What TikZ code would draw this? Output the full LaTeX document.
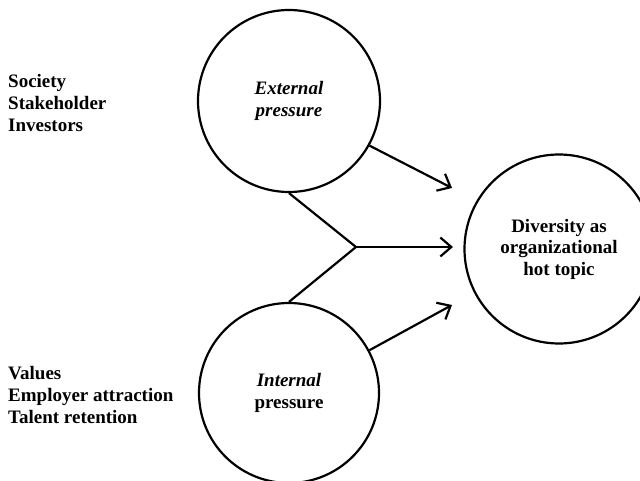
\documentclass[tikz,border=0pt]{standalone}
\usepackage{fontspec}
\setmainfont{Liberation Serif}
\usetikzlibrary{arrows.meta}
\begin{document}
\begin{tikzpicture}[x=1pt,y=-1pt,
  bubble/.style={draw=black,line width=2.2pt,circle,inner sep=0pt,minimum size=#1,font=\fontsize{19}{21.5}\selectfont\bfseries,align=center},
  conn/.style={draw=black,line width=2.2pt},
  arr/.style={conn,-{Straight Barb[length=11pt,width=19pt,line width=2.2pt]}},
  side/.style={font=\fontsize{19}{22}\selectfont\bfseries,align=left,anchor=west,inner sep=0pt}]
\useasboundingbox (0,0) rectangle (640,481);
\node[bubble=182pt] (ext) at (289,101) {\itshape External\\\itshape pressure};
\node[bubble=180pt] (int) at (289,393) {\itshape Internal\\pressure};
\node[bubble=189pt] (div) at (559,249) {Diversity as\\organizational\\hot topic};
\node[side] (lt) at (8,103) {Society\\Stakeholder\\Investors};
\node[side] (lb) at (8,395) {Values\\Employer attraction\\Talent retention};
\coordinate (J) at (356,247);
\coordinate (t1) at (452,188);
\coordinate (t2) at (453,247);
\coordinate (t3) at (452,305);
\draw[arr] (ext.-29) -- (t1);
\draw[conn,line join=miter] (ext.south) -- (J) -- (int.north);
\draw[arr] (J) -- (t2);
\draw[arr] (int.28.5) -- (t3);
\end{tikzpicture}
\end{document}
